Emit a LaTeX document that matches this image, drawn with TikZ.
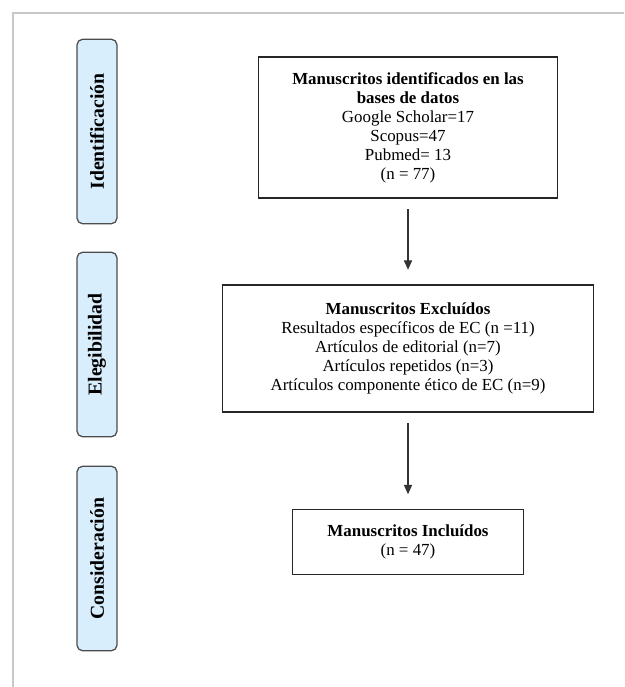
\documentclass[tikz,border=0pt]{standalone}
\usepackage{fontspec}
\setmainfont{Liberation Serif}
\usepackage{xcolor}
\usetikzlibrary{arrows.meta}
\usetikzlibrary{math}

\definecolor{tabblue}{RGB}{217,238,253}
\definecolor{framegray}{RGB}{200,200,203}

\tikzset{
  phase/.style={draw=black!70, fill=tabblue, line width=0.9pt, rounded corners=4pt,
    minimum width=28.4pt, minimum height=131pt, inner sep=0pt,
    font=\fontsize{14}{16}\selectfont\bfseries},
  record/.style={draw=black!85, line width=0.9pt, align=center, inner sep=0pt,
    font=\fontsize{12}{13.5}\selectfont},
  flow/.style={-{Triangle[length=6.6pt,width=5.8pt]}, line width=0.8pt, black!80,
    shorten <=7.5pt, shorten >=10.5pt}
}

\begin{document}
\begin{tikzpicture}[x=0.71pt,y=-0.71pt]

  \tikzmath{
    \tabx  = 97;    % centre of the phase tabs
    \boxx  = 408;   % centre of the record boxes
    \yone  = 131.5; % centre of first row
    \ytwo  = 344.5; % centre of second row
    \ythr  = 558.5; % centre of third row
  }

  \useasboundingbox (0,0) rectangle (624,687);

  % page frame (top and left only)
  \draw[framegray, line width=1.5pt] (13,687) -- (13,13) -- (624,13);

  % phase tabs
  \node[phase] (ident) at (\tabx,\yone) {\rotatebox{90}{Identificación}};
  \node[phase] (elig)  at (\tabx,\ytwo) {\rotatebox{90}{Elegibilidad}};
  \node[phase] (cons)  at (\tabx,\ythr) {\rotatebox{90}{Consideración}};

  % records
  \node[record, minimum width=212pt, minimum height=100pt] (found) at (\boxx,127.5)
    {\textbf{Manuscritos identificados en las}\\ \textbf{bases de datos}\\
     Google Scholar=17\\ Scopus=47\\ Pubmed= 13\\ (n = 77)};

  \node[record, minimum width=263pt, minimum height=90pt] (excl) at (\boxx,348.5)
    {\textbf{Manuscritos Excluídos}\\ Resultados específicos de EC (n =11)\\
     Artículos de editorial (n=7)\\ Artículos repetidos (n=3)\\
     Artículos componente ético de EC (n=9)};

  \node[record, minimum width=164pt, minimum height=46pt] (incl) at (\boxx,542)
    {\textbf{Manuscritos Incluídos}\\ (n = 47)};

  % flow arrows
  \draw[flow] (found) -- (excl);
  \draw[flow] (excl) -- (incl);

\end{tikzpicture}
\end{document}
